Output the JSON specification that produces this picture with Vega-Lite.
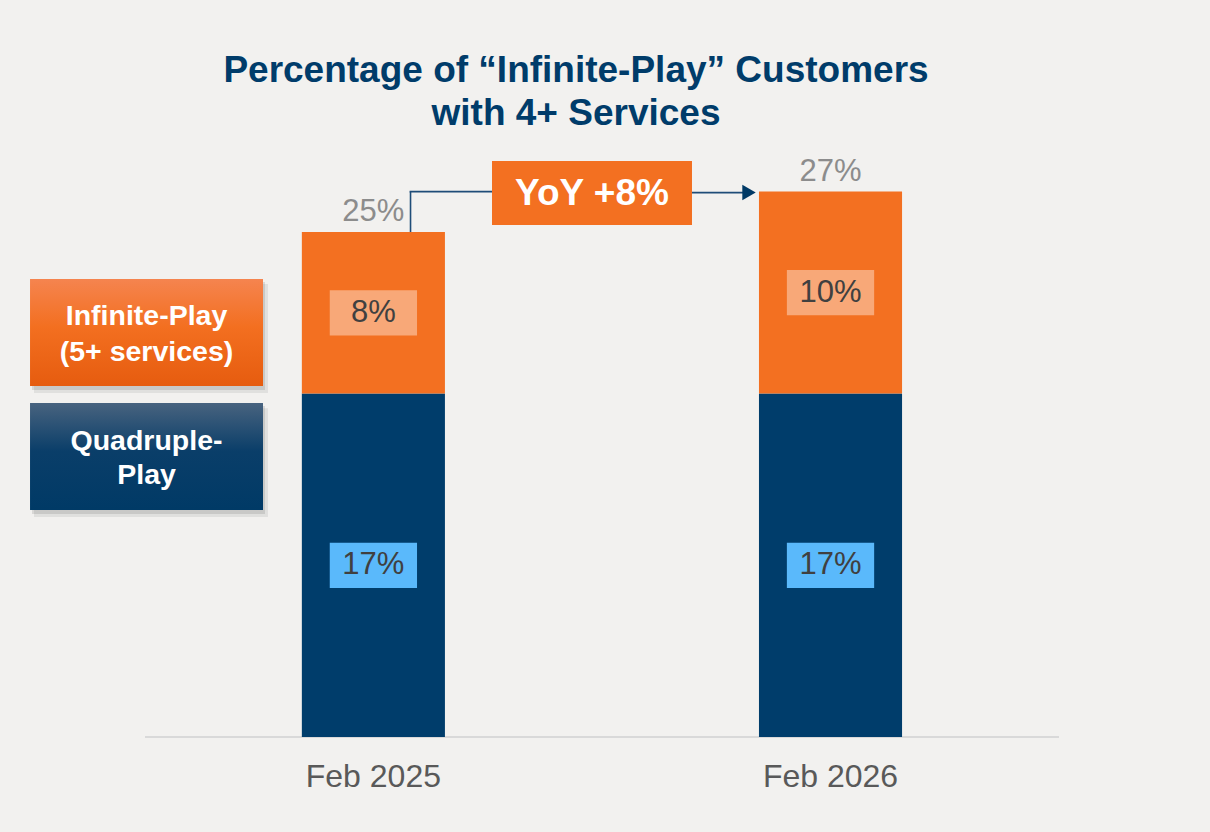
{
  "$schema": "https://vega.github.io/schema/vega-lite/v6.json",
  "width": 1210,
  "height": 606,
  "autosize": {"type": "none"},
  "padding": {"top": 131, "bottom": 95, "left": 0, "right": 0},
  "background": "#f2f1ef",
  "config": {"font": "Liberation Sans", "view": {"stroke": null}},
  "title": {
    "text": ["Percentage of “Infinite-Play” Customers", "with 4+ Services"],
    "fontSize": 37,
    "fontWeight": "bold",
    "color": "#003c6a",
    "lineHeight": 43,
    "anchor": "middle",
    "dx": -29,
    "offset": -2
  },
  "datasets": {
    "share": [
      {"period": "Feb 2025", "segment": "Quadruple-Play", "value": 17},
      {"period": "Feb 2025", "segment": "Infinite-Play", "value": 8},
      {"period": "Feb 2026", "segment": "Quadruple-Play", "value": 17},
      {"period": "Feb 2026", "segment": "Infinite-Play", "value": 10}
    ]
  },
  "layer": [
    {
      "data": {"values": [{}]},
      "layer": [
        {
          "mark": {"type": "rule", "color": "#d9d9d9", "strokeWidth": 2},
          "encoding": {
            "x": {"datum": -0.5, "type": "quantitative", "scale": {"domain": [-0.8173, 1.8304], "nice": false, "zero": false}, "axis": null},
            "x2": {"datum": 1.5},
            "y": {"datum": 0, "type": "quantitative", "scale": {"domain": [0, 30], "nice": false}, "axis": null}
          }
        },
        {
          "mark": {"type": "rect", "color": "#000000", "opacity": 0.07},
          "encoding": {
            "x": {"datum": -0.7429, "type": "quantitative", "scale": {"domain": [-0.8173, 1.8304], "nice": false, "zero": false}, "axis": null},
            "x2": {"datum": -0.2309},
            "y": {"datum": 22.42, "type": "quantitative", "scale": {"domain": [0, 30], "nice": false}, "axis": null},
            "y2": {"datum": 17.03}
          }
        },
        {
          "mark": {"type": "rect", "color": "#000000", "opacity": 0.1},
          "encoding": {
            "x": {"datum": -0.7473, "type": "quantitative", "scale": {"domain": [-0.8173, 1.8304], "nice": false, "zero": false}, "axis": null},
            "x2": {"datum": -0.2374},
            "y": {"datum": 22.52, "type": "quantitative", "scale": {"domain": [0, 30], "nice": false}, "axis": null},
            "y2": {"datum": 17.18}
          }
        },
        {
          "mark": {"type": "rect", "color": "#000000", "opacity": 0.07},
          "encoding": {
            "x": {"datum": -0.7429, "type": "quantitative", "scale": {"domain": [-0.8173, 1.8304], "nice": false, "zero": false}, "axis": null},
            "x2": {"datum": -0.2309},
            "y": {"datum": 16.28, "type": "quantitative", "scale": {"domain": [0, 30], "nice": false}, "axis": null},
            "y2": {"datum": 10.89}
          }
        },
        {
          "mark": {"type": "rect", "color": "#000000", "opacity": 0.1},
          "encoding": {
            "x": {"datum": -0.7473, "type": "quantitative", "scale": {"domain": [-0.8173, 1.8304], "nice": false, "zero": false}, "axis": null},
            "x2": {"datum": -0.2374},
            "y": {"datum": 16.38, "type": "quantitative", "scale": {"domain": [0, 30], "nice": false}, "axis": null},
            "y2": {"datum": 11.04}
          }
        },
        {
          "mark": {
            "type": "rect",
            "color": {"gradient": "linear", "x1": 0, "y1": 0, "x2": 0, "y2": 1, "stops": [
              {"offset": 0, "color": "#f5844f"},
              {"offset": 0.45, "color": "#f36f20"},
              {"offset": 1, "color": "#e65c0f"}
            ]}
          },
          "encoding": {
            "x": {"datum": -0.7516, "type": "quantitative", "scale": {"domain": [-0.8173, 1.8304], "nice": false, "zero": false}, "axis": null},
            "x2": {"datum": -0.2418},
            "y": {"datum": 22.67, "type": "quantitative", "scale": {"domain": [0, 30], "nice": false}, "axis": null},
            "y2": {"datum": 17.38}
          }
        },
        {
          "mark": {
            "type": "rect",
            "color": {"gradient": "linear", "x1": 0, "y1": 0, "x2": 0, "y2": 1, "stops": [
              {"offset": 0, "color": "#48637f"},
              {"offset": 0.45, "color": "#0a3e69"},
              {"offset": 1, "color": "#003a66"}
            ]}
          },
          "encoding": {
            "x": {"datum": -0.7516, "type": "quantitative", "scale": {"domain": [-0.8173, 1.8304], "nice": false, "zero": false}, "axis": null},
            "x2": {"datum": -0.2418},
            "y": {"datum": 16.53, "type": "quantitative", "scale": {"domain": [0, 30], "nice": false}, "axis": null},
            "y2": {"datum": 11.24}
          }
        },
        {
          "mark": {"type": "text", "text": ["Infinite-Play", "(5+ services)"], "fontSize": 28.5, "fontWeight": "bold", "color": "#ffffff", "lineHeight": 36, "baseline": "middle", "align": "center"},
          "encoding": {
            "x": {"datum": -0.4967, "type": "quantitative", "scale": {"domain": [-0.8173, 1.8304], "nice": false, "zero": false}, "axis": null},
            "y": {"datum": 20.84, "type": "quantitative", "scale": {"domain": [0, 30], "nice": false}, "axis": null}
          }
        },
        {
          "mark": {"type": "text", "text": ["Quadruple-", "Play"], "fontSize": 28.5, "fontWeight": "bold", "color": "#ffffff", "lineHeight": 34, "baseline": "middle", "align": "center"},
          "encoding": {
            "x": {"datum": -0.4967, "type": "quantitative", "scale": {"domain": [-0.8173, 1.8304], "nice": false, "zero": false}, "axis": null},
            "y": {"datum": 14.65, "type": "quantitative", "scale": {"domain": [0, 30], "nice": false}, "axis": null}
          }
        },
        {
          "mark": {"type": "rule", "color": "#1f4d78", "strokeWidth": 1.6},
          "encoding": {
            "x": {"datum": 0.081, "type": "quantitative", "scale": {"domain": [-0.8173, 1.8304], "nice": false, "zero": false}, "axis": null},
            "y": {"datum": 25, "type": "quantitative", "scale": {"domain": [0, 30], "nice": false}, "axis": null},
            "y2": {"datum": 27}
          }
        },
        {
          "mark": {"type": "rule", "color": "#1f4d78", "strokeWidth": 1.6},
          "encoding": {
            "x": {"datum": 0.079, "type": "quantitative", "scale": {"domain": [-0.8173, 1.8304], "nice": false, "zero": false}, "axis": null},
            "x2": {"datum": 0.26},
            "y": {"datum": 27, "type": "quantitative", "scale": {"domain": [0, 30], "nice": false}, "axis": null}
          }
        },
        {
          "mark": {"type": "rule", "color": "#1f4d78", "strokeWidth": 1.6},
          "encoding": {
            "x": {"datum": 0.6969, "type": "quantitative", "scale": {"domain": [-0.8173, 1.8304], "nice": false, "zero": false}, "axis": null},
            "x2": {"datum": 0.81},
            "y": {"datum": 26.95, "type": "quantitative", "scale": {"domain": [0, 30], "nice": false}, "axis": null}
          }
        },
        {
          "mark": {"type": "point", "shape": "triangle-right", "filled": true, "color": "#003a66", "size": 240, "opacity": 1},
          "encoding": {
            "x": {"datum": 0.8217, "type": "quantitative", "scale": {"domain": [-0.8173, 1.8304], "nice": false, "zero": false}, "axis": null},
            "y": {"datum": 26.95, "type": "quantitative", "scale": {"domain": [0, 30], "nice": false}, "axis": null}
          }
        },
        {
          "mark": {"type": "rect", "color": "#f37021"},
          "encoding": {
            "x": {"datum": 0.2593, "type": "quantitative", "scale": {"domain": [-0.8173, 1.8304], "nice": false, "zero": false}, "axis": null},
            "x2": {"datum": 0.6969},
            "y": {"datum": 28.51, "type": "quantitative", "scale": {"domain": [0, 30], "nice": false}, "axis": null},
            "y2": {"datum": 25.35}
          }
        },
        {
          "mark": {"type": "text", "text": "YoY +8%", "fontSize": 37, "fontWeight": "bold", "color": "#ffffff", "baseline": "middle", "align": "center"},
          "encoding": {
            "x": {"datum": 0.4781, "type": "quantitative", "scale": {"domain": [-0.8173, 1.8304], "nice": false, "zero": false}, "axis": null},
            "y": {"datum": 26.9, "type": "quantitative", "scale": {"domain": [0, 30], "nice": false}, "axis": null}
          }
        }
      ]
    },
    {
      "data": {"name": "share"},
      "transform": [
        {"stack": "value", "groupby": ["period"], "sort": [{"field": "segment", "order": "descending"}], "as": ["y0", "y1"]},
        {"calculate": "(datum.y0 + datum.y1) / 2", "as": "mid"},
        {"calculate": "datum.mid - 1.12", "as": "boxLo"},
        {"calculate": "datum.mid + 1.12", "as": "boxHi"},
        {"calculate": "datum.value + '%'", "as": "label"}
      ],
      "encoding": {
        "x": {
          "field": "period",
          "type": "nominal",
          "scale": {"paddingInner": 0.687, "paddingOuter": 0.667, "align": 0.495},
          "axis": {"title": null, "domain": false, "ticks": false, "grid": false, "labelAngle": 0, "labelFontSize": 32, "labelColor": "#595959", "labelPadding": 24}
        }
      },
      "layer": [
        {
          "mark": {"type": "bar"},
          "encoding": {
            "y": {"field": "y0", "type": "quantitative", "scale": {"domain": [0, 30], "nice": false}, "axis": null},
            "y2": {"field": "y1"},
            "color": {"field": "segment", "type": "nominal", "scale": {"domain": ["Infinite-Play", "Quadruple-Play"], "range": ["#f37021", "#003d6b"]}, "legend": null}
          }
        },
        {
          "mark": {"type": "bar", "width": {"band": 0.61}},
          "encoding": {
            "y": {"field": "boxLo", "type": "quantitative", "scale": {"domain": [0, 30], "nice": false}, "axis": null},
            "y2": {"field": "boxHi"},
            "fill": {"field": "segment", "type": "nominal", "scale": {"domain": ["Infinite-Play", "Quadruple-Play"], "range": ["#f8a878", "#5ab9fb"]}, "legend": null}
          }
        },
        {
          "mark": {"type": "text", "fontSize": 31, "color": "#404040", "baseline": "middle", "align": "center"},
          "encoding": {
            "y": {"field": "mid", "type": "quantitative", "scale": {"domain": [0, 30], "nice": false}, "axis": null},
            "text": {"field": "label"}
          }
        },
        {
          "transform": [
            {"aggregate": [{"op": "sum", "field": "value", "as": "total"}], "groupby": ["period"]},
            {"calculate": "datum.total + '%'", "as": "totalLabel"}
          ],
          "mark": {"type": "text", "fontSize": 31, "color": "#8c8c8c", "baseline": "alphabetic", "align": "center", "dy": -11},
          "encoding": {
            "y": {"field": "total", "type": "quantitative", "scale": {"domain": [0, 30], "nice": false}, "axis": null},
            "text": {"field": "totalLabel"}
          }
        }
      ]
    }
  ],
  "resolve": {"scale": {"x": "independent"}}
}
